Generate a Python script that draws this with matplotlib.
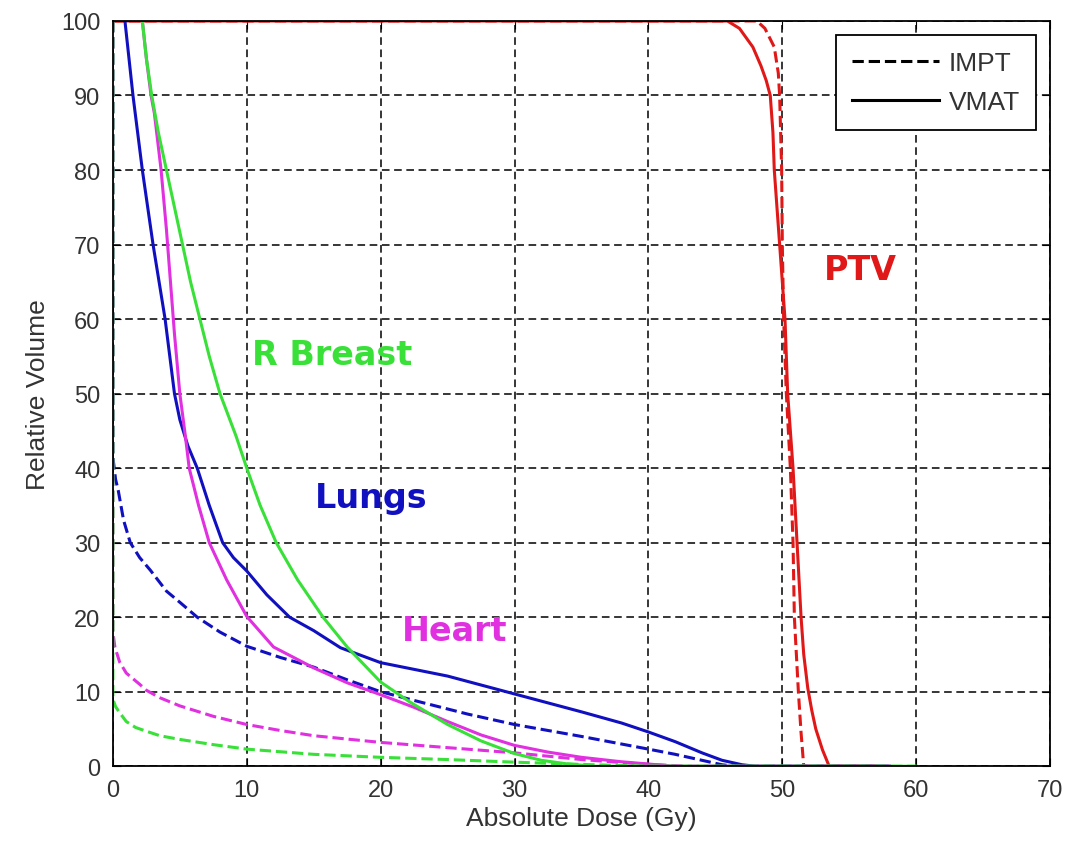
import matplotlib
matplotlib.use("Agg")
import matplotlib.pyplot as plt
from matplotlib.lines import Line2D

# Dose-volume histogram values (dose Gy, volume %)
ptv_vmat_x = [0, 45.9, 46.8, 47.8, 48.4, 48.8, 49.1, 49.3, 49.4, 49.6, 49.8, 50.0, 50.2, 50.3, 50.4,
              50.6, 50.8, 50.95, 51.1, 51.25, 51.4, 51.6, 51.9, 52.2, 52.5, 53.0, 53.5, 57]
ptv_vmat_y = [100, 100, 99, 96.5, 94, 92, 90, 85, 80, 75, 70, 65, 60, 55, 50,
              45, 40, 35, 30, 25, 20, 15, 10.5, 7.5, 5, 2.2, 0, 0]
ptv_impt_x = [0, 48.1, 48.7, 49.4, 49.7, 49.8, 49.95, 50.0, 50.1, 50.3, 50.6, 50.8, 50.9, 51.2, 51.4, 51.6, 57]
ptv_impt_y = [100, 100, 99, 96.5, 93, 90, 80, 70, 60, 50, 40, 30, 20, 10, 4.5, 0, 0]

lung_vmat_x = [0.9, 1.2, 1.5, 1.85, 2.2, 2.6, 3.0, 3.45, 3.9, 4.25, 4.6, 5.0, 5.6, 6.3, 7.2, 8.2, 9.0, 10,
               11.5, 13.2, 15, 17, 20, 22.5, 25, 30, 35, 38, 40, 42, 44, 45.5, 47, 48, 58]
lung_vmat_y = [100, 95, 90, 85, 80, 75, 70, 65, 60, 55, 50, 46.5, 43, 40, 35, 30, 28, 26.2,
               23, 20, 18.2, 15.9, 13.9, 13, 12.1, 9.7, 7.3, 5.8, 4.6, 3.3, 1.8, 0.8, 0.2, 0, 0]
lung_impt_x = [0, 0, 0.2, 0.4, 0.8, 1.3, 2, 2.8, 4, 5, 6.3, 8, 10, 12.5, 15, 17.5, 20, 23, 26.5,
               30, 35, 40, 42, 44, 45.5, 46.5, 58]
lung_impt_y = [100, 41.5, 38.5, 37, 33, 30, 28, 26.3, 23.5, 22, 20, 18, 16.1, 14.6, 13.3, 11.6, 10, 8.6, 7,
               5.6, 4, 2.3, 1.6, 0.8, 0.2, 0, 0]

heart_vmat_x = [2.2, 2.5, 2.85, 3.1, 3.6, 4.0, 4.3, 4.6, 5.0, 5.4, 5.7, 6.4, 7.2, 8.5, 10, 12, 15, 17.5, 20,
                22.5, 25, 27.5, 30, 32.5, 35, 38, 40, 42, 58]
heart_vmat_y = [100, 95, 90, 87.6, 80, 72, 65, 58, 50, 44.5, 40, 35, 30, 25, 20.1, 16, 13.2, 11.2, 9.6,
                7.9, 6.0, 4.2, 2.8, 1.9, 1.2, 0.6, 0.3, 0, 0]
heart_impt_x = [0, 0, 0.15, 0.5, 1, 2, 2.5, 3.5, 5, 7.5, 10, 12.5, 15, 20, 25, 30, 35, 38, 40, 43, 58]
heart_impt_y = [100, 18, 16, 14, 12.5, 11, 10.2, 9.2, 8.1, 6.7, 5.6, 4.8, 4.1, 3.2, 2.5, 1.8, 0.9, 0.5, 0.25, 0, 0]

breast_vmat_x = [2.2, 2.5, 2.9, 3.4, 4.0, 4.6, 5.2, 5.8, 6.5, 7.2, 8.0, 9.2, 10, 11, 12.2, 13.8, 15.7,
                 17.5, 20, 22.2, 25, 27.5, 30, 32, 34, 36, 60]
breast_vmat_y = [100, 95, 90, 85, 80, 75, 70, 65, 60, 55, 50, 44.3, 40, 35, 30, 25, 20,
                 16, 11.3, 8.6, 5.6, 3.4, 1.7, 0.8, 0.3, 0, 0]
breast_impt_x = [0, 0, 0.2, 0.5, 1, 1.7, 2.5, 3.5, 5, 7.5, 10, 15, 20, 25, 30, 35, 40, 60]
breast_impt_y = [100, 9, 8, 7.2, 6, 5.2, 4.7, 4.1, 3.6, 2.9, 2.3, 1.6, 1.2, 0.9, 0.55, 0.25, 0, 0]

red = "#e01818"
blue = "#1010c0"
magenta = "#e030e0"
green = "#38e038"
grey = "#333333"

fig = plt.figure(figsize=(10.65, 8.45), dpi=100)
ax = fig.add_axes([0.106, 0.092, 0.880, 0.882])

lw = 2.2
ax.plot(ptv_vmat_x, ptv_vmat_y, color=red, lw=lw)
ax.plot(ptv_impt_x, ptv_impt_y, color=red, lw=lw, ls="--")
ax.plot(lung_vmat_x, lung_vmat_y, color=blue, lw=lw)
ax.plot(lung_impt_x, lung_impt_y, color=blue, lw=lw, ls="--")
ax.plot(heart_vmat_x, heart_vmat_y, color=magenta, lw=lw)
ax.plot(heart_impt_x, heart_impt_y, color=magenta, lw=lw, ls="--")
ax.plot(breast_vmat_x, breast_vmat_y, color=green, lw=lw)
ax.plot(breast_impt_x, breast_impt_y, color=green, lw=lw, ls="--")

lab_kw = dict(fontsize=24, fontweight="bold", ha="center", va="center")
ax.text(55.8, 66.7, "PTV", color=red, **lab_kw)
ax.text(16.4, 55.3, "R Breast", color=green, **lab_kw)
ax.text(19.3, 36, "Lungs", color=blue, **lab_kw)
ax.text(25.5, 18.2, "Heart", color=magenta, **lab_kw)

ax.set_xlim(0, 70)
ax.set_ylim(0, 100)
ax.set_xticks(range(0, 71, 10))
ax.set_yticks(range(0, 101, 10))
ax.grid(True, color="black", ls=(0, (5, 3)), lw=1.1)
ax.tick_params(direction="in", top=True, right=True, length=6, labelsize=17,
               labelcolor=grey)
ax.tick_params(axis="x", pad=9)
ax.tick_params(axis="y", pad=9)
for lab in ax.get_xticklabels() + ax.get_yticklabels():
    lab.set_family("Liberation Sans")
for s in ax.spines.values():
    s.set_linewidth(1.3)

ax.set_xlabel("Absolute Dose (Gy)", fontsize=19, family="Liberation Sans", color=grey, labelpad=4)
ax.set_ylabel("Relative Volume", fontsize=19, family="Liberation Sans", color=grey, labelpad=8)

handles = [Line2D([], [], color="black", lw=2.2, ls="--"),
           Line2D([], [], color="black", lw=2.2)]
leg = ax.legend(handles, ["IMPT", "VMAT"], loc="upper right", fancybox=False,
                edgecolor="black", framealpha=1, handlelength=3.3, handletextpad=0.35,
                borderpad=0.6, labelspacing=0.55,
                prop={"family": "Liberation Sans", "size": 19}, borderaxespad=0.55,
                labelcolor=grey)
leg.get_frame().set_linewidth(1.3)

fig.savefig("out.png", dpi=100)
